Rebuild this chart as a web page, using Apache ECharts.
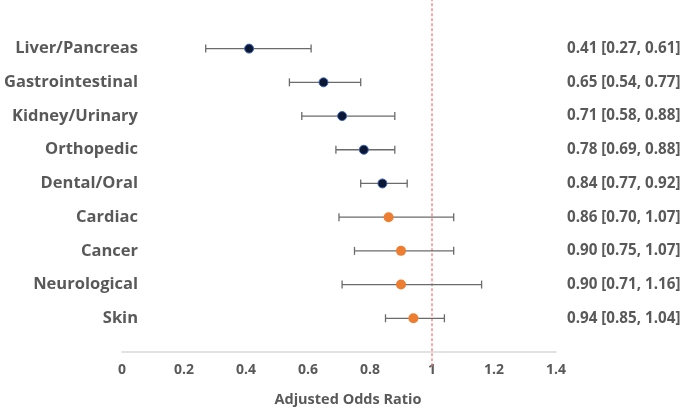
<!DOCTYPE html>
<html><head><meta charset="utf-8">
<script src="https://cdn.jsdelivr.net/npm/echarts@6/dist/echarts.min.js"></script>
<style>html,body{margin:0;padding:0;background:#fff}#c{width:684px;height:412px}</style>
</head><body><div id="c"></div>
<script>
var categories = ['Liver/Pancreas','Gastrointestinal','Kidney/Urinary','Orthopedic','Dental/Oral','Cardiac','Cancer','Neurological','Skin'];
var oddsRatio = [0.41,0.65,0.71,0.78,0.84,0.86,0.90,0.90,0.94];
var ciLower = [0.27,0.54,0.58,0.69,0.77,0.70,0.75,0.71,0.85];
var ciUpper = [0.61,0.77,0.88,0.88,0.92,1.07,1.07,1.16,1.04];
var groupColor = ['navy','navy','navy','navy','navy','orange','orange','orange','orange'];
var xTicks = [0,0.2,0.4,0.6,0.8,1,1.2,1.4];

var n = categories.length;
function rowY(i){ return n - i; }
var FONT = '"Open Sans", sans-serif';
var GRAY = '#595959';

var ciData = categories.map(function(c,i){ return [ciLower[i], ciUpper[i], rowY(i)]; });
var navyPts = [], orangePts = [];
categories.forEach(function(c,i){
  (groupColor[i]==='navy'?navyPts:orangePts).push([oddsRatio[i], rowY(i)]);
});
function leftLabel(v){ var i = n - v; return (Number.isInteger(v) && i>=0 && i<n) ? categories[i] : ''; }
function rightLabel(v){ var i = n - v; return (Number.isInteger(v) && i>=0 && i<n) ?
  oddsRatio[i].toFixed(2)+' ['+ciLower[i].toFixed(2)+', '+ciUpper[i].toFixed(2)+']' : ''; }

var YMAX = 354/33.9;
var chart = echarts.init(document.getElementById('c'), null, {renderer:'canvas'});
chart.setOption({
  animation:false,
  grid:{left:122, right:128, top:0, bottom:58},
  xAxis:{type:'value', min:0, max:1.4, interval:0.2,
    axisLine:{show:true, lineStyle:{color:'#d9d9d9', width:1.5}},
    axisTick:{show:false}, splitLine:{show:false},
    axisLabel:{color:GRAY, fontWeight:'bold', fontSize:14, fontFamily:FONT, margin:11,
      formatter:function(v){ return String(+v.toFixed(1)); }},
    name:'Adjusted Odds Ratio', nameLocation:'middle', nameGap:40,
    nameTextStyle:{color:GRAY, fontWeight:'bold', fontSize:14.5, fontFamily:FONT, padding:[0,0,0,18]}
  },
  yAxis:[
    {type:'value', min:0, max:YMAX, interval:1, position:'left', offset:-16,
     axisLine:{show:false}, axisTick:{show:false}, splitLine:{show:false},
     axisLabel:{margin:0, color:GRAY, fontWeight:'bold', fontSize:16.5, fontFamily:FONT, formatter:leftLabel, showMaxLabel:false}},
    {type:'value', min:0, max:YMAX, interval:1, position:'right',
     axisLine:{show:false}, axisTick:{show:false}, splitLine:{show:false},
     axisLabel:{margin:11, align:'left', color:GRAY, fontWeight:'bold', fontSize:15.2, fontFamily:FONT, formatter:rightLabel, showMaxLabel:false}}
  ],
  series:[
    {type:'line', data:[[1,-0.42],[1,YMAX]], symbol:'none', clip:false, z:1,
     lineStyle:{color:'#f47a7c', type:[3,2], width:1.3}},
    {type:'custom', data:ciData, z:2, clip:false,
     renderItem:function(params, api){
       var a = api.coord([api.value(0), api.value(2)]);
       var b = api.coord([api.value(1), api.value(2)]);
       var h = 4, st = {stroke:'#6b6b6b', lineWidth:1.3};
       return {type:'group', children:[
         {type:'line', shape:{x1:a[0],y1:a[1],x2:b[0],y2:b[1]}, style:st},
         {type:'line', shape:{x1:a[0],y1:a[1]-h,x2:a[0],y2:a[1]+h}, style:st},
         {type:'line', shape:{x1:b[0],y1:b[1]-h,x2:b[0],y2:b[1]+h}, style:st}
       ]};
     }},
    {type:'scatter', data:navyPts, symbol:'circle', symbolSize:9, z:3,
     itemStyle:{color:'#0b1733', borderColor:'#3d64b8', borderWidth:1, opacity:1}},
    {type:'scatter', data:orangePts, symbol:'circle', symbolSize:10, z:3,
     itemStyle:{color:'#ed7d31', opacity:1}}
  ]
});
</script></body></html>
